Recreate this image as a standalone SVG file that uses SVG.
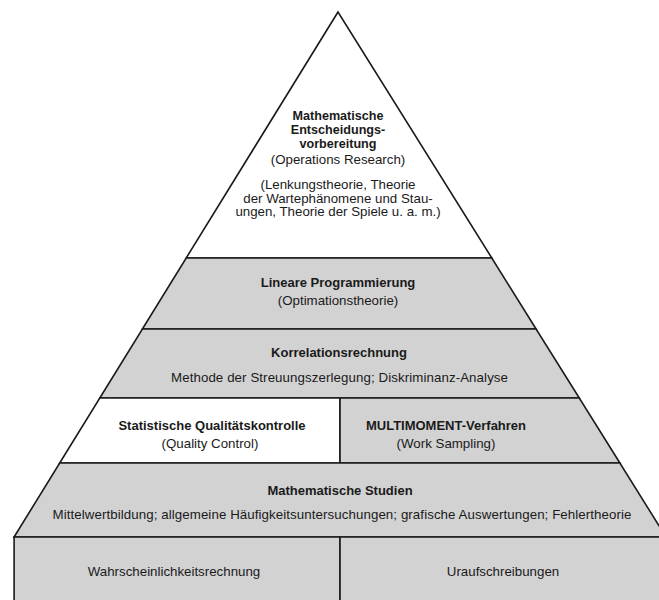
<svg xmlns="http://www.w3.org/2000/svg" width="659" height="600" viewBox="0 0 659 600">
<style>
.w{fill:#ffffff;stroke:#1a1a1a;stroke-width:1.6;stroke-linejoin:miter}
.g{fill:#d2d2d2;stroke:#1a1a1a;stroke-width:1.6;stroke-linejoin:miter}
text{font-family:"Liberation Sans",Arial,Helvetica,sans-serif;fill:#1a1a1a;text-anchor:middle}
.b{font-weight:bold;font-size:13px}
.bt{font-weight:bold;font-size:12.6px}
.r{font-size:13.3px}
</style>
<rect x="0" y="0" width="659" height="600" fill="#ffffff"/>
<g id="operations-research">
<polygon class="w" points="338,12 186.2,258 491.8,258"/>
<text class="bt" x="338" y="120">Mathematische</text>
<text class="bt" x="338" y="134">Entscheidungs-</text>
<text class="bt" x="338" y="148">vorbereitung</text>
<text class="r" x="338" y="164">(Operations Research)</text>
<text class="r" x="338" y="189">(Lenkungstheorie, Theorie</text>
<text class="r" x="338" y="202.5">der Wartephänomene und Stau-</text>
<text class="r" x="338" y="216">ungen, Theorie der Spiele u. a. m.)</text>
</g>
<g id="lineare-programmierung">
<polygon class="g" points="186.2,258 491.8,258 536.1,329 142.4,329"/>
<text class="b" x="338" y="286.5">Lineare Programmierung</text>
<text class="r" x="338" y="304.5">(Optimationstheorie)</text>
</g>
<g id="korrelationsrechnung">
<polygon class="g" points="142.4,329 536.1,329 579.3,398 99.8,398"/>
<text class="b" x="339" y="356.5">Korrelationsrechnung</text>
<text class="r" x="339.5" y="381.5" textLength="337" lengthAdjust="spacing">Methode der Streuungszerlegung; Diskriminanz-Analyse</text>
</g>
<g id="qualitaetskontrolle">
<polygon class="w" points="99.8,398 340,398 340,463 59.7,463"/>
<text class="b" x="212" y="429.5">Statistische Qualitätskontrolle</text>
<text class="r" x="210" y="447.5">(Quality Control)</text>
</g>
<g id="multimoment">
<polygon class="g" points="340,398 579.3,398 619.9,463 340,463"/>
<text class="b" x="446" y="429.5">MULTIMOMENT-Verfahren</text>
<text class="r" x="446" y="447.5">(Work Sampling)</text>
</g>
<g id="mathematische-studien">
<polygon class="g" points="59.7,463 619.9,463 666,537 14.1,537"/>
<text class="b" x="340" y="494.5">Mathematische Studien</text>
<text class="r" x="342" y="519" textLength="579" lengthAdjust="spacing">Mittelwertbildung; allgemeine Häufigkeitsuntersuchungen; grafische Auswertungen; Fehlertheorie</text>
</g>
<g id="wahrscheinlichkeitsrechnung">
<polygon class="g" points="14.1,537 340,537 340,602 14.1,602"/>
<text class="r" x="174" y="575.5">Wahrscheinlichkeitsrechnung</text>
</g>
<g id="uraufschreibungen">
<polygon class="g" points="340,537 670,537 670,602 340,602"/>
<text class="r" x="503" y="575.5">Uraufschreibungen</text>
</g>
<g id="connectors"></g>
</svg>
